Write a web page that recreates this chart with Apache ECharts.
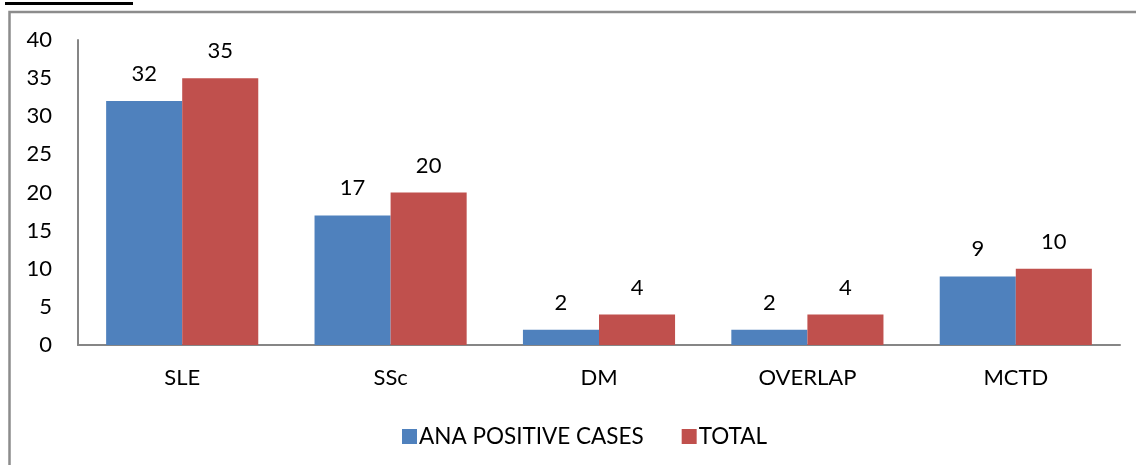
<!DOCTYPE html>
<html><head><meta charset="utf-8">
<script src="https://cdn.jsdelivr.net/npm/echarts@6/dist/echarts.min.js"></script>
<style>html,body{margin:0;padding:0;background:#fff}#c{width:1136px;height:465px}</style>
</head><body><div id="c"></div>
<script>
const categories = ['SLE', 'SSc', 'DM', 'OVERLAP', 'MCTD'];
const anaPositive = [32, 17, 2, 2, 9];
const total = [35, 20, 4, 4, 10];
const yTicks = [0, 5, 10, 15, 20, 25, 30, 35, 40];
const seriesNames = ['ANA POSITIVE CASES', 'TOTAL'];

const font = 'Lato, "Open Sans", "Noto Sans", sans-serif';
const chart = echarts.init(document.getElementById('c'));
chart.setOption({
  animation: false,
  backgroundColor: '#fff',
  graphic: [
    { type: 'rect', shape: { x: 9.5, y: 12, width: 1160, height: 470 }, style: { fill: 'none', stroke: '#8c8c8c', lineWidth: 2.5 } },
    { type: 'rect', shape: { x: 5, y: 2, width: 128, height: 3 }, style: { fill: '#000' } }
  ],
  grid: { left: 78, right: 16, top: 40, bottom: 120, containLabel: false },
  legend: {
    top: 420, left: 397, itemWidth: 15, itemHeight: 15, itemGap: 38, icon: 'rect',
    textStyle: { fontFamily: font, fontSize: 22.5, color: '#000', padding: [0, 0, 0, -3] },
    data: seriesNames
  },
  xAxis: {
    type: 'category', data: categories,
    axisLine: { lineStyle: { color: '#868686', width: 2 } },
    axisTick: { show: false },
    axisLabel: { fontFamily: font, fontSize: 22, color: '#000', margin: 22 }
  },
  yAxis: {
    type: 'value', min: 0, max: 40, interval: 5,
    axisLine: { show: true, lineStyle: { color: '#868686', width: 2 } },
    axisTick: { show: false },
    splitLine: { show: false },
    axisLabel: { fontFamily: font, fontSize: 22, color: '#000', margin: 26,
      formatter: v => yTicks.includes(v) ? String(v) : '' }
  },
  series: [
    { name: seriesNames[0], type: 'bar', data: anaPositive, barWidth: '36.5%', barGap: '0%',
      itemStyle: { color: '#4F81BD' },
      label: { show: true, position: 'top', distance: 16, fontFamily: font, fontSize: 22, color: '#000' } },
    { name: seriesNames[1], type: 'bar', data: total, barWidth: '36.5%',
      itemStyle: { color: '#C0504D' },
      label: { show: true, position: 'top', distance: 16, fontFamily: font, fontSize: 22, color: '#000' } }
  ]
});
</script></body></html>
